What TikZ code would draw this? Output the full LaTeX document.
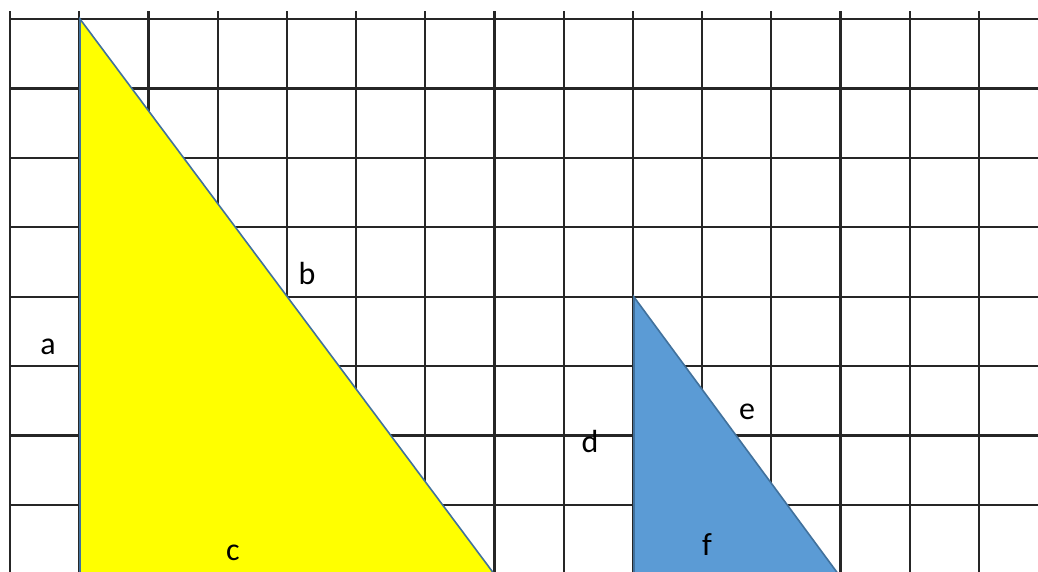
\documentclass[tikz,border=0pt]{standalone}
\usepackage{fontspec}
\setmainfont{Carlito}
\definecolor{gridc}{HTML}{262626}
\definecolor{edgec}{HTML}{41719C}
\definecolor{bluefill}{HTML}{5B9BD5}
\definecolor{yellowfill}{HTML}{FFFF00}
\tikzset{
  gridline/.style={draw=gridc, line width=2.2pt},
  tri/.style={draw=edgec, line width=1.6pt, line join=miter},
  lbl/.style={inner sep=0pt, font=\fontsize{32}{38}\selectfont, text=black}
}
\begin{document}
\begin{tikzpicture}[x=1pt,y=-1pt]
\useasboundingbox (0,0) rectangle (1038,571);
\fill[white] (0,0) rectangle (1038,571);
\begin{scope}
\clip (0,0) rectangle (1038,571);
\foreach \i in {0,...,14} {
  \draw[gridline] ({10+69.21*\i},11) -- ({10+69.21*\i},580);
}
\foreach \j in {0,...,7} {
  \draw[gridline] (9,{19+69.43*\j}) -- (1040,{19+69.43*\j});
}
\fill[yellowfill] (80,19) -- (80,590) -- (506.1,590) -- cycle;
\draw[tri] (80,590) -- (80,19) -- (506.1,590);
\fill[bluefill] (634,297) -- (634,590) -- (850,590) -- cycle;
\draw[tri] (634,590) -- (634,297) -- (850,590);
\end{scope}
\node[lbl] (la) at (48,347) {a};
\node[lbl] (lb) at (307,273) {b};
\node[lbl] (lc) at (233,553) {c};
\node[lbl] (ld) at (590,441) {d};
\node[lbl] (le) at (747,412) {e};
\node[lbl] (lf) at (707,545) {f};
\end{tikzpicture}
\end{document}
